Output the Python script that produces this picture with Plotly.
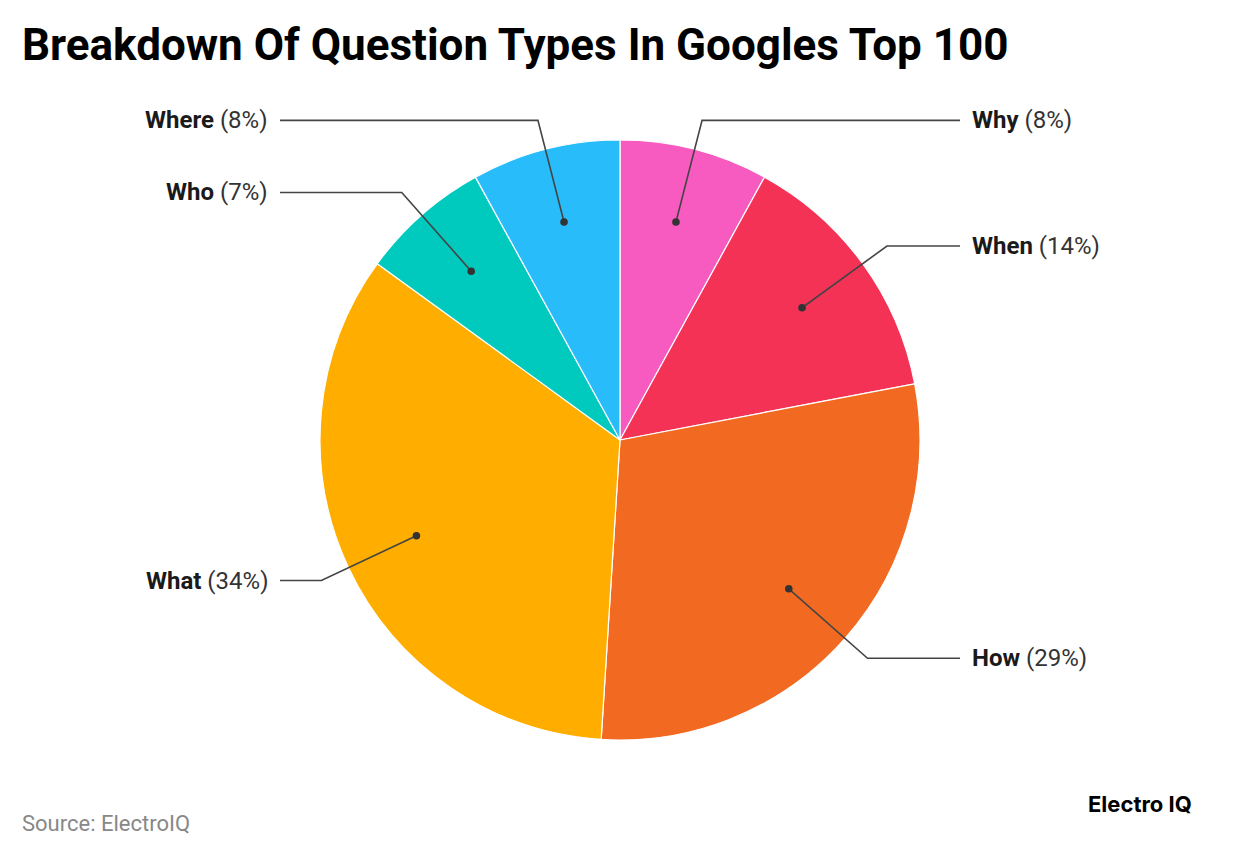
import math
import plotly.graph_objects as go

# ---- data ----
categories = ["Why", "When", "How", "What", "Who", "Where"]
values = [8, 14, 29, 34, 7, 8]
colors = ["#F75BC0", "#F43256", "#F26A21", "#FFAE00", "#00C9BE", "#29BCFB"]

W, H = 1240, 856
OX, OY = 8, 8  # page offset of the plot div
CX, CY, R = 620, 440, 300  # pie centre/radius in page pixels

def px(x):
    return (x - OX) / W

def py(y):
    return 1 - (y - OY) / H

fig = go.Figure()
fig.add_trace(go.Pie(
    labels=categories, values=values, sort=False, direction="clockwise",
    rotation=0, textinfo="none", hoverinfo="label+percent",
    marker=dict(colors=colors, line=dict(color="white", width=1.2)),
    domain=dict(x=[px(CX - R), px(CX + R)], y=[py(CY + R), py(CY - R)]),
    showlegend=False,
))

shapes = []
annotations = []
total = sum(values)
cum = 0
for cat, v in zip(categories, values):
    mid = cum + v / 2
    cum += v
    ang = math.radians(90 - 360 * mid / total)
    dx, dy = math.cos(ang), math.sin(ang)
    x0, y0 = CX + 0.75 * R * dx, CY - 0.75 * R * dy
    x1, y1 = CX + 1.10 * R * dx, CY - 1.10 * R * dy
    right = dx >= 0
    x2 = CX + 340 if right else CX - 340
    shapes.append(dict(type="path", xref="paper", yref="paper",
                       path=f"M {px(x0)},{py(y0)} L {px(x1)},{py(y1)} L {px(x2)},{py(y1)}",
                       line=dict(color="#444444", width=1.6)))
    shapes.append(dict(type="circle", xref="paper", yref="paper",
                       x0=px(x0 - 3.8), x1=px(x0 + 3.8), y0=py(y0 + 3.8), y1=py(y0 - 3.8),
                       fillcolor="#333333", line=dict(width=0)))
    pct = round(100 * v / total)
    annotations.append(dict(
        xref="paper", yref="paper",
        x=px(x2 + 10) if right else px(x2 - 10), y=py(y1),
        xanchor="left" if right else "right", yanchor="middle",
        text=f"<b>{cat}</b> <span style='color:#333333'>({pct}%)</span>",
        showarrow=False, font=dict(family="Roboto", size=24, color="#1a1a1a")))

annotations.append(dict(xref="paper", yref="paper", x=px(20), y=py(45),
                        xanchor="left", yanchor="middle", showarrow=False,
                        text="<b>Breakdown Of Question Types In Googles Top 100</b>",
                        font=dict(family="Roboto", size=44, color="#000000")))
annotations.append(dict(xref="paper", yref="paper", x=px(20), y=py(823),
                        xanchor="left", yanchor="middle", showarrow=False,
                        text="Source: ElectroIQ",
                        font=dict(family="Roboto", size=22, color="#888888")))
annotations.append(dict(xref="paper", yref="paper", x=px(1194), y=py(804),
                        xanchor="right", yanchor="middle", showarrow=False,
                        text="<b>Electro IQ</b>",
                        font=dict(family="Inter", size=22, color="#000000")))

fig.update_layout(width=W, height=H, margin=dict(l=0, r=0, t=0, b=0),
                  paper_bgcolor="white", plot_bgcolor="white",
                  shapes=shapes, annotations=annotations)
fig.write_html("out.html")
